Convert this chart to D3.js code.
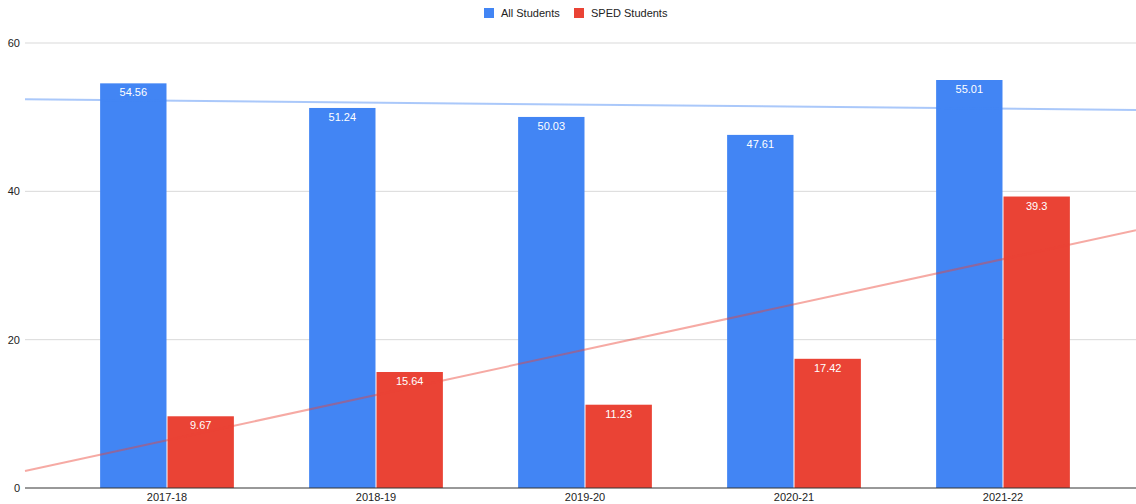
<!DOCTYPE html>
<html lang="en">
<head>
<meta charset="UTF-8">
<title>All Students vs SPED Students</title>
<script src="https://cdn.jsdelivr.net/npm/d3@7"></script>
<style>
    body { margin: 0; background: #fff; }
    svg { font-family: "Liberation Sans", Arial, sans-serif; }
    .grid line { stroke: #d9d9d9; }
    .y-axis text, .x-axis text { fill: #222; font-size: 11px; }
    .bar-label { fill: #fff; font-size: 11px; text-anchor: middle; }
    .legend text { fill: #222; font-size: 11px; }
</style>
</head>
<body>
<div id="chart"></div>
<script>
    const categories = ["2017-18", "2018-19", "2019-20", "2020-21", "2021-22"];
    const allStudents = [54.56, 51.24, 50.03, 47.61, 55.01];
    const spedStudents = [9.67, 15.64, 11.23, 17.42, 39.3];
    const seriesNames = ["All Students", "SPED Students"];
    const yTicks = [0, 20, 40, 60];

    const colors = ["#4285f4", "#ea4335"];
    const width = 1136, height = 504;
    const plotLeft = 25, plotRight = 1136, plotTop = 43, plotBottom = 488;

    const svg = d3.select("#chart").append("svg")
        .attr("width", width)
        .attr("height", height);

    const y = d3.scaleLinear().domain([0, 60]).range([plotBottom, plotTop]);

    const x = d3.scaleBand()
        .domain(categories)
        .range([62.5, 1107.5])
        .paddingInner(0.36)
        .paddingOuter(0.18);

    const xSub = d3.scaleBand()
        .domain(seriesNames)
        .range([0, x.bandwidth()])
        .paddingInner(0.015);

    // gridlines
    svg.append("g").attr("class", "grid")
        .selectAll("line")
        .data(yTicks.filter(d => d > 0))
        .join("line")
        .attr("x1", plotLeft).attr("x2", plotRight)
        .attr("y1", d => y(d)).attr("y2", d => y(d));

    // y labels
    svg.append("g").attr("class", "y-axis")
        .selectAll("text")
        .data(yTicks)
        .join("text")
        .attr("x", 20)
        .attr("y", d => y(d) + 4)
        .attr("text-anchor", "end")
        .text(d => d);

    const rows = categories.map((c, i) => ({cat: c, vals: [allStudents[i], spedStudents[i]]}));

    const groups = svg.append("g")
        .selectAll("g")
        .data(rows)
        .join("g")
        .attr("transform", d => `translate(${x(d.cat)},0)`);

    groups.selectAll("rect")
        .data(d => d.vals.map((v, j) => ({v: v, s: seriesNames[j], j: j})))
        .join("rect")
        .attr("x", d => xSub(d.s))
        .attr("y", d => y(d.v))
        .attr("width", xSub.bandwidth())
        .attr("height", d => y(0) - y(d.v))
        .attr("fill", d => colors[d.j]);

    groups.selectAll("text")
        .data(d => d.vals.map((v, j) => ({v: v, s: seriesNames[j]})))
        .join("text")
        .attr("class", "bar-label")
        .attr("x", d => xSub(d.s) + xSub.bandwidth() / 2)
        .attr("y", d => y(d.v) + 13)
        .text(d => d.v);

    // linear trendlines (least squares over category index)
    const idx = d3.scaleLinear()
        .domain([0, categories.length - 1])
        .range([x(categories[0]) + x.bandwidth() / 2,
                x(categories[categories.length - 1]) + x.bandwidth() / 2]);

    function trend(vals) {
        const mx = d3.mean(vals, (v, i) => i);
        const my = d3.mean(vals);
        let num = 0, den = 0;
        vals.forEach((v, i) => { num += (i - mx) * (v - my); den += (i - mx) * (i - mx); });
        const b = num / den;
        return i => my + b * (i - mx);
    }

    [allStudents, spedStudents].forEach((vals, k) => {
        const f = trend(vals);
        const i0 = idx.invert(plotLeft), i1 = idx.invert(plotRight);
        svg.append("line")
            .attr("x1", plotLeft).attr("y1", y(f(i0)))
            .attr("x2", plotRight).attr("y2", y(f(i1)))
            .attr("stroke", colors[k])
            .attr("stroke-opacity", 0.45)
            .attr("stroke-width", 2);
    });

    // baseline
    svg.append("line")
        .attr("x1", plotLeft).attr("x2", plotRight)
        .attr("y1", y(0)).attr("y2", y(0))
        .attr("stroke", "#333").attr("stroke-width", 1);

    // x labels
    svg.append("g").attr("class", "x-axis")
        .selectAll("text")
        .data(categories)
        .join("text")
        .attr("x", d => x(d) + x.bandwidth() / 2)
        .attr("y", 501)
        .attr("text-anchor", "middle")
        .text(d => d);

    // legend
    const legend = svg.append("g").attr("class", "legend");
    const legendPos = [484, 574];
    seriesNames.forEach((s, k) => {
        legend.append("rect")
            .attr("x", legendPos[k]).attr("y", 8)
            .attr("width", 10).attr("height", 10)
            .attr("fill", colors[k]);
        legend.append("text")
            .attr("x", legendPos[k] + 17).attr("y", 17)
            .text(s);
    });
</script>
</body>
</html>
